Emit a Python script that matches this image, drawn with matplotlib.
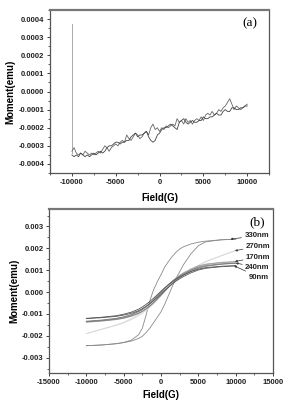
import matplotlib
matplotlib.use("Agg")
import matplotlib.pyplot as plt
from matplotlib.ticker import MultipleLocator, FixedLocator

plt.rcParams['font.family'] = ['Liberation Sans', 'DejaVu Sans']
plt.rcParams['font.weight'] = 'bold'

# ---------------- Panel (a) data ----------------
field_a = list(range(-10000, 10001, 250))
moment_a1 = [-0.00033, -0.00031, -0.00034, -0.00035, -0.00034, -0.00035, -0.00033, -0.00034, -0.00035, -0.00034,
             -0.00035, -0.00034, -0.00033, -0.00034, -0.00032, -0.00030, -0.00031, -0.00033, -0.00031, -0.00030,
             -0.00029, -0.00030, -0.00028, -0.00027, -0.00028, -0.00024, -0.00026, -0.00027, -0.00025, -0.00023,
             -0.00024, -0.00026, -0.00025, -0.00023, -0.00022, -0.00024, -0.00020, -0.00018, -0.00021, -0.00020,
             -0.00022, -0.00020, -0.00021, -0.00019, -0.00020, -0.00019, -0.00018, -0.00019, -0.00015, -0.00017,
             -0.00016, -0.00018, -0.00015, -0.00017, -0.00016, -0.00018, -0.00016, -0.00015, -0.00016, -0.00014,
             -0.00016, -0.00013, -0.00012, -0.00013, -0.00011, -0.00013, -0.00012, -0.00010, -0.00011, -0.00009,
             -0.00008, -0.00006, -0.00004, -0.00007, -0.00010, -0.00008, -0.00009, -0.00010, -0.00009, -0.00008,
             -0.00007]
moment_a2 = [-0.00035, -0.00036, -0.00035, -0.00036, -0.00034, -0.00035, -0.00036, -0.00035, -0.00036, -0.00035,
             -0.00034, -0.00035, -0.00034, -0.00033, -0.00034, -0.00033, -0.00031, -0.00030, -0.00030, -0.00029,
             -0.00028, -0.00028, -0.00029, -0.00028, -0.00028, -0.00027, -0.00027, -0.00025, -0.00024, -0.00023,
             -0.00025, -0.00024, -0.00024, -0.00023, -0.00022, -0.00025, -0.00027, -0.00028, -0.00027, -0.00024,
             -0.00023, -0.00021, -0.00020, -0.00020, -0.00019, -0.00018, -0.00019, -0.00020, -0.00021, -0.00017,
             -0.00016, -0.00015, -0.00017, -0.00018, -0.00017, -0.00016, -0.00017, -0.00017, -0.00016, -0.00016,
             -0.00014, -0.00015, -0.00015, -0.00014, -0.00014, -0.00013, -0.00012, -0.00013, -0.00013, -0.00011,
             -0.00010, -0.00011, -0.00011, -0.00009, -0.00009, -0.00010, -0.00010, -0.00009, -0.00009, -0.00008,
             -0.00008]
spike_field = [-10000, -10000]
spike_moment = [0.00037, -0.00034]

# ---------------- Panel (b) data ----------------
field_b = [-10000, -8000, -6000, -5000, -4000, -3000, -2500, -2000, -1500, -1000, -500,
           0, 500, 1000, 1500, 2000, 2500, 3000, 4000, 5000, 6000, 8000, 10000]
m330_down = [-0.00245, -0.00242, -0.00236, -0.00230, -0.00220, -0.00195, -0.00165, -0.00105, -0.00040, 0.00010, 0.00047,
             0.00080, 0.00115, 0.00140, 0.00163, 0.00182, 0.00197, 0.00207, 0.00220, 0.00228, 0.00233, 0.00239, 0.00242]
m330_up = [-0.00245, -0.00242, -0.00236, -0.00231, -0.00224, -0.00212, -0.00202, -0.00185, -0.00165, -0.00140, -0.00115,
           -0.00090, -0.00055, -0.00015, 0.00025, 0.00062, 0.00093, 0.00125, 0.00175, 0.00212, 0.00230, 0.00239, 0.00242]
m270_down = [-0.00190, -0.00170, -0.00150, -0.00138, -0.00122, -0.00102, -0.00090, -0.00076, -0.00060, -0.00044, -0.00026,
             -0.00008, 0.00012, 0.00030, 0.00046, 0.00060, 0.00072, 0.00083, 0.00104, 0.00122, 0.00140, 0.00166, 0.00190]
m270_up = [-0.00190, -0.00171, -0.00152, -0.00141, -0.00126, -0.00108, -0.00097, -0.00084, -0.00070, -0.00054, -0.00036,
           -0.00018, 0.00002, 0.00022, 0.00040, 0.00056, 0.00069, 0.00081, 0.00102, 0.00121, 0.00139, 0.00165, 0.00190]
m170_down = [-0.00136, -0.00130, -0.00122, -0.00115, -0.00105, -0.00090, -0.00080, -0.00068, -0.00054, -0.00038, -0.00020,
             -0.00002, 0.00016, 0.00034, 0.00050, 0.00064, 0.00077, 0.00088, 0.00106, 0.00120, 0.00128, 0.00136, 0.00140]
m170_up = [-0.00138, -0.00133, -0.00126, -0.00120, -0.00111, -0.00098, -0.00089, -0.00078, -0.00065, -0.00050, -0.00033,
           -0.00015, 0.00004, 0.00022, 0.00040, 0.00056, 0.00070, 0.00082, 0.00101, 0.00116, 0.00126, 0.00134, 0.00138]
m240_down = [-0.00133, -0.00128, -0.00120, -0.00113, -0.00103, -0.00088, -0.00078, -0.00066, -0.00052, -0.00036, -0.00018,
             0.00000, 0.00018, 0.00034, 0.00049, 0.00062, 0.00074, 0.00084, 0.00100, 0.00113, 0.00121, 0.00129, 0.00133]
m240_up = [-0.00135, -0.00131, -0.00124, -0.00118, -0.00109, -0.00096, -0.00087, -0.00076, -0.00063, -0.00048, -0.00031,
           -0.00013, 0.00005, 0.00022, 0.00038, 0.00053, 0.00066, 0.00077, 0.00095, 0.00109, 0.00118, 0.00127, 0.00132]
m90_down = [-0.00120, -0.00115, -0.00108, -0.00101, -0.00092, -0.00078, -0.00068, -0.00056, -0.00043, -0.00028, -0.00012,
            0.00004, 0.00020, 0.00034, 0.00047, 0.00059, 0.00069, 0.00078, 0.00094, 0.00105, 0.00112, 0.00118, 0.00121]
m90_up = [-0.00121, -0.00117, -0.00111, -0.00105, -0.00097, -0.00085, -0.00076, -0.00065, -0.00053, -0.00039, -0.00024,
          -0.00008, 0.00008, 0.00023, 0.00037, 0.00050, 0.00061, 0.00071, 0.00088, 0.00101, 0.00109, 0.00116, 0.00120]

labels_b = ['330nm', '270nm', '170nm', '240nm', '90nm']
label_pos_b = [(11150, 0.00258), (11350, 0.00210), (11350, 0.00160), (11250, 0.00113), (11700, 0.00069)]
arrow_tip_b = [(9300, 0.00242), (9900, 0.00189), (9900, 0.00140), (10000, 0.00133), (9800, 0.00120)]
colors_b = ['#8a8a8a', '#d9d9d9', '#a0a0a0', '#7a7a7a', '#555555']

yticks_a = [-0.0004, -0.0003, -0.0002, -0.0001, 0.0, 0.0001, 0.0002, 0.0003, 0.0004]
xticks_a = [-10000, -5000, 0, 5000, 10000]
yticks_b = [-0.003, -0.002, -0.001, 0.0, 0.001, 0.002, 0.003]
xticks_b = [-15000, -10000, -5000, 0, 5000, 10000, 15000]

fig = plt.figure(figsize=(2.85, 4.03), dpi=100)
ax1 = fig.add_axes([0.1754, 0.5707, 0.769, 0.4045])
ax2 = fig.add_axes([0.172, 0.0744, 0.786, 0.407])

tick_fs = 5.5
lab_fs = 7.0

def style(ax):
    for s in ax.spines.values():
        s.set_color('#555555')
        s.set_linewidth(0.9)
    ax.spines['top'].set_linewidth(1.6)
    ax.spines['top'].set_color('#777777')
    ax.tick_params(which='major', direction='out', length=2.5, width=0.6, labelsize=tick_fs, pad=1.5, colors='#222222')
    ax.tick_params(which='minor', direction='out', length=1.3, width=0.5, colors='#222222')
    ax.tick_params(top=False, right=False, which='both')
    for lbl in ax.get_xticklabels() + ax.get_yticklabels():
        lbl.set_fontweight('bold')

# Panel (a)
ax1.plot(spike_field, spike_moment, color='#aaaaaa', lw=0.7)
ax1.plot(field_a, moment_a1, color='#666666', lw=0.6)
ax1.plot(field_a, moment_a2, color='#444444', lw=0.6)
ax1.set_xlim(-12500, 12500)
ax1.set_ylim(-0.00045, 0.00045)
ax1.yaxis.set_major_locator(FixedLocator(yticks_a))
ax1.set_yticklabels([f'{v:.4f}' for v in yticks_a])
ax1.yaxis.set_minor_locator(MultipleLocator(0.00005))
ax1.xaxis.set_major_locator(FixedLocator(xticks_a))
ax1.set_xticklabels([str(v) for v in xticks_a])
ax1.xaxis.set_minor_locator(MultipleLocator(2500))
style(ax1)
ax1.set_xlabel('Field(G)', fontsize=lab_fs, fontweight='bold', labelpad=5)
ax1.set_ylabel('Moment(emu)', fontsize=lab_fs, fontweight='bold', labelpad=2)
ax1.text(0.91, 0.92, '(a)', transform=ax1.transAxes, fontsize=9.5, family='Liberation Serif',
         fontweight='normal', ha='center', va='center')

# Panel (b)
downs = [m330_down, m270_down, m170_down, m240_down, m90_down]
ups = [m330_up, m270_up, m170_up, m240_up, m90_up]
for d, u, c in zip(downs, ups, colors_b):
    ax2.plot(field_b, d, color=c, lw=0.6)
    ax2.plot(field_b, u, color=c, lw=0.6)
for lab, pos, tip in zip(labels_b, label_pos_b, arrow_tip_b):
    ax2.annotate(lab, xy=tip, xytext=pos, fontsize=5.6, fontweight='bold', color='#222222',
                 ha='left', va='center',
                 arrowprops=dict(arrowstyle='-|>', color='#333333', lw=0.5, mutation_scale=3,
                                 shrinkA=0, shrinkB=0))
ax2.set_xlim(-15000, 15000)
ax2.set_ylim(-0.0037, 0.0038)
ax2.yaxis.set_major_locator(FixedLocator(yticks_b))
ax2.set_yticklabels([f'{v:.3f}' for v in yticks_b])
ax2.yaxis.set_minor_locator(MultipleLocator(0.0005))
ax2.xaxis.set_major_locator(FixedLocator(xticks_b))
ax2.set_xticklabels([str(v) for v in xticks_b])
ax2.xaxis.set_minor_locator(MultipleLocator(2500))
style(ax2)
ax2.set_xlabel('Field(G)', fontsize=lab_fs, fontweight='bold', labelpad=3)
ax2.set_ylabel('Moment(emu)', fontsize=lab_fs, fontweight='bold', labelpad=2)
ax2.text(0.93, 0.92, '(b)', transform=ax2.transAxes, fontsize=9.5, family='Liberation Serif',
         fontweight='normal', ha='center', va='center')

fig.savefig('out.png', dpi=100)
